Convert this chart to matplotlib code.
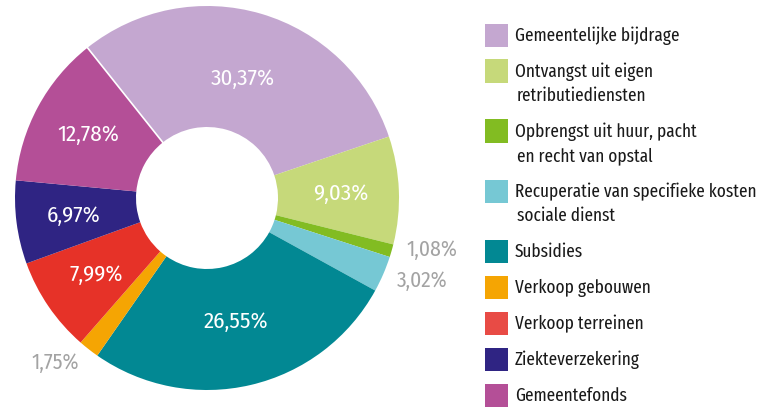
import numpy as np
import matplotlib.pyplot as plt
from matplotlib.patches import Rectangle

plt.rcParams['font.family'] = ['Fira Sans Condensed', 'DejaVu Sans']
plt.rcParams['font.stretch'] = 'condensed'
legend_font = ['Fira Sans Extra Condensed', 'Fira Sans Condensed', 'DejaVu Sans']

# data
categories = ["Gemeentelijke bijdrage", "Ontvangst uit eigen\nretributiediensten",
              "Opbrengst uit huur, pacht\nen recht van opstal",
              "Recuperatie van specifieke kosten\nsociale dienst", "Subsidies",
              "Verkoop gebouwen", "Verkoop terreinen", "Ziekteverzekering", "Gemeentefonds"]
values = [30.37, 9.03, 1.08, 3.02, 26.55, 1.75, 7.99, 6.97, 12.78]
labels = ["30,37%", "9,03%", "1,08%", "3,02%", "26,55%", "1,75%", "7,99%", "6,97%", "12,78%"]
colors = ["#c4a7d0", "#c6d97a", "#82bc22", "#76c8d4", "#028893",
          "#f5a503", "#e63228", "#2f2483", "#b44f97"]
legend_colors = ["#c4a7d0", "#c6d97a", "#82bc22", "#76c8d4", "#028893",
                 "#f5a503", "#e84b45", "#2f2483", "#b44f97"]

W, H = 767, 410
fig = plt.figure(figsize=(W / 100, H / 100), dpi=100)

# pie axes: centre (207,199), radius 192 px
cx, cy, R = 207, 199, 192
ax = fig.add_axes([(cx - R) / W, (H - cy - R) / H, 2 * R / W, 2 * R / H])
wedges, _ = ax.pie(values, colors=colors, startangle=128.5, counterclock=False,
                   radius=1, wedgeprops=dict(width=1 - 71 / 192, linewidth=0))
ax.set_xlim(-1, 1)
ax.set_ylim(-1, 1)
ax.set_aspect("equal")
ax.axis("off")

# thin white gap between Ziekteverzekering and Gemeentefonds
a = np.deg2rad(wedges[-1].theta1)
ax.plot([0.36 * np.cos(a), np.cos(a)], [0.36 * np.sin(a), np.sin(a)], color="white", lw=1.2)

for i, w in enumerate(wedges):
    mid = np.deg2rad((w.theta1 + w.theta2) / 2)
    if values[i] < 4:
        r = 1.08
        ha = "left" if np.cos(mid) > 0 else "right"
        dy = 0.03 if i == 2 else 0
        ax.text(r * np.cos(mid), r * np.sin(mid) + dy, labels[i], ha=ha, va="center",
                color="#a3a3a3", fontsize=15.5, clip_on=False)
    else:
        r = 0.655 if values[i] > 20 else 0.70
        ax.text(r * np.cos(mid), r * np.sin(mid), labels[i], ha="center", va="center",
                color="white", fontsize=16.5)

# legend drawn by hand
row_y = [36, 72, 132, 192, 252, 288, 324, 360, 396]
for name, col, y in zip(categories, legend_colors, row_y):
    fig.patches.append(Rectangle((485 / W, (H - y - 11.5) / H), 23 / W, 23 / H,
                                 transform=fig.transFigure, facecolor=col, edgecolor="none"))
    fig.text(515 / W, (H - y) / H, name.split("\n")[0], ha="left", va="center",
             fontsize=13.5, color="#1a1a1a", family=legend_font)
    if "\n" in name:
        fig.text(517 / W, (H - y - 24) / H, name.split("\n")[1], ha="left", va="center",
                 fontsize=13.5, color="#1a1a1a", family=legend_font)

fig.savefig("out.png", dpi=100)
